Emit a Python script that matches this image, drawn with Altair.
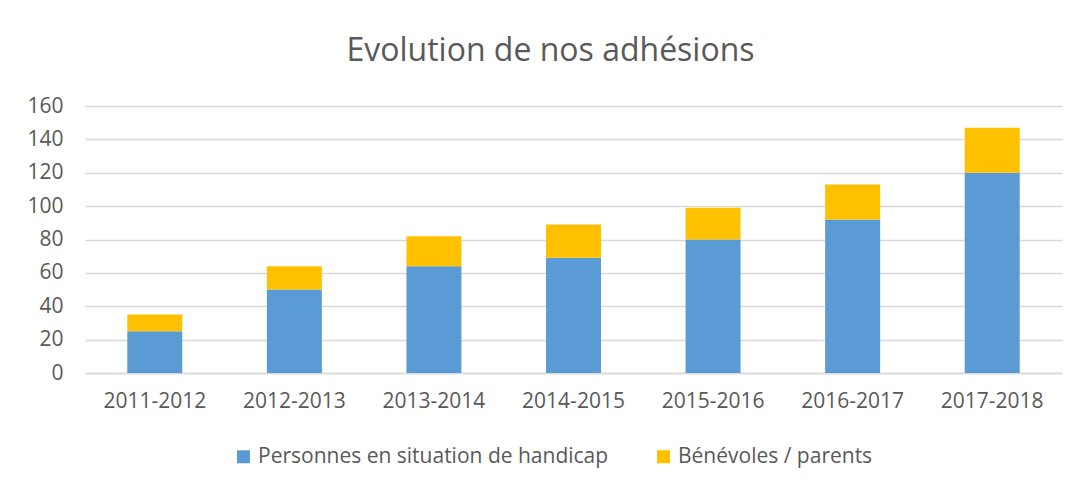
import altair as alt
import pandas as pd

years = ["2011-2012", "2012-2013", "2013-2014", "2014-2015", "2015-2016", "2016-2017", "2017-2018"]
personnes = [25, 50, 64, 69, 80, 92, 120]
benevoles = [10, 14, 18, 20, 19, 21, 27]
series = ["Personnes en situation de handicap", "Bénévoles / parents"]
colors = ["#5B9BD5", "#FFC000"]

rows = []
for i, y in enumerate(years):
    rows.append({"annee": y, "serie": series[0], "valeur": personnes[i], "ord": 0})
    rows.append({"annee": y, "serie": series[1], "valeur": benevoles[i], "ord": 1})
df = pd.DataFrame(rows)

FONT = "Open Sans"
TXT = "#595959"

chart = (
    alt.Chart(df)
    .mark_bar()
    .encode(
        x=alt.X(
            "annee:N",
            sort=years,
            title=None,
            scale=alt.Scale(paddingInner=0.606, paddingOuter=0.303),
            axis=alt.Axis(
                labelAngle=0,
                ticks=False,
                domain=True,
                domainColor="#D9D9D9",
                domainWidth=1.5,
                labelPadding=17,
                labelFontSize=21,
                labelColor=TXT,
                labelFont=FONT,
            ),
        ),
        y=alt.Y(
            "valeur:Q",
            title=None,
            scale=alt.Scale(domain=[0, 160], nice=False),
            axis=alt.Axis(
                values=[0, 20, 40, 60, 80, 100, 120, 140, 160],
                ticks=False,
                domain=False,
                gridColor="#D9D9D9",
                gridWidth=1.5,
                labelPadding=22,
                labelFontSize=21,
                labelColor=TXT,
                labelFont=FONT,
            ),
        ),
        color=alt.Color(
            "serie:N",
            scale=alt.Scale(domain=series, range=colors),
            legend=alt.Legend(
                title=None,
                orient="none",
                direction="horizontal",
                legendX=148,
                legendY=340,
                symbolType="square",
                symbolSize=169,
                symbolStrokeWidth=0,
                labelFontSize=21,
                labelLimit=0,
                labelColor=TXT,
                labelFont=FONT,
                labelOffset=4,
                columnPadding=44,
            ),
        ),
        order=alt.Order("ord:Q", sort="ascending"),
    )
    .properties(
        width=977,
        height=267,
        padding={"left": 77, "top": 98, "right": 8, "bottom": 107},
        autosize=alt.AutoSizeParams(type="none"),
        background="white",
        title=alt.TitleParams(
            "Evolution de nos adhésions",
            fontSize=32,
            font=FONT,
            fontWeight="normal",
            color=TXT,
            anchor="middle",
            baseline="alphabetic",
            offset=2,
            dx=-23,
        ),
    )
    .configure_view(stroke=None)
)

chart.save("out.html", embed_options={"renderer": "svg", "actions": False})
